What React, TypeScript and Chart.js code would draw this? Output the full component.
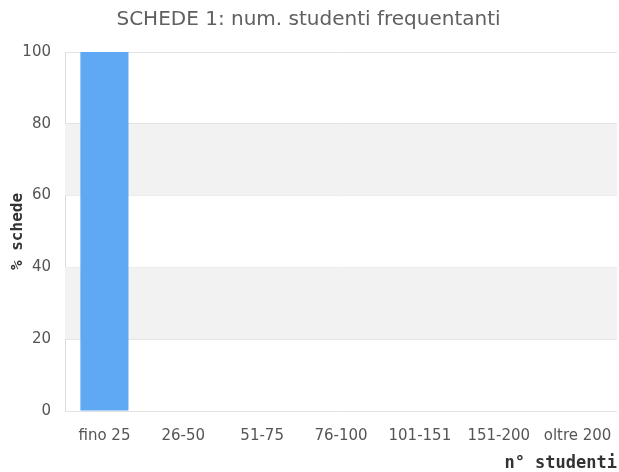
import React, { useEffect, useRef } from "react";
import { Chart, registerables } from "chart.js";

Chart.register(...registerables);

const categories = ["fino 25", "26-50", "51-75", "76-100", "101-151", "151-200", "oltre 200"];
const values = [100, 0, 0, 0, 0, 0, 0];
const titleText = "SCHEDE 1: num. studenti frequentanti";
const xTitle = "n° studenti";
const yTitle = "% schede";

const bandPlugin = {
  id: "bands",
  beforeDatasetsDraw(chart: any) {
    const { ctx, chartArea, scales } = chart;
    const y = scales.y;
    const ticks = y.ticks.map((t: any) => t.value);
    ctx.save();
    ctx.fillStyle = "#f2f2f2";
    for (let i = 0; i < ticks.length - 1; i++) {
      if (i % 2 === 1) {
        const y1 = y.getPixelForValue(ticks[i]);
        const y2 = y.getPixelForValue(ticks[i + 1]);
        ctx.fillRect(chartArea.left, Math.min(y1, y2), chartArea.right - chartArea.left, Math.abs(y2 - y1));
      }
    }
    ctx.restore();
  },
};

export default function App() {
  const ref = useRef<HTMLCanvasElement>(null);
  useEffect(() => {
    if (!ref.current) return;
    const chart = new Chart(ref.current, {
      type: "bar",
      data: {
        labels: categories,
        datasets: [
          {
            data: values,
            backgroundColor: "#5fa8f3",
            borderWidth: 0,
            barPercentage: 0.61,
            categoryPercentage: 1,
          },
        ],
      },
      plugins: [bandPlugin],
      options: {
        animation: false,
        responsive: false,
        maintainAspectRatio: false,
        layout: { padding: { left: 0, right: 2, top: 0, bottom: 0 } },
        plugins: {
          legend: { display: false },
          tooltip: { enabled: false },
          title: {
            display: true,
            text: titleText,
            color: "#606060",
            font: { family: "DejaVu Sans", size: 20, weight: "normal", lineHeight: 1.2 },
            padding: { top: 8, bottom: 20 },
          },
        },
        scales: {
          x: {
            grid: { display: false, drawTicks: false },
            border: { display: false },
            ticks: { color: "#555", font: { family: "DejaVu Sans", size: 15 }, padding: 16, maxRotation: 0, autoSkip: false },
            title: {
              display: true,
              text: xTitle,
              align: "end",
              color: "#333",
              font: { family: "DejaVu Sans Mono", size: 17, weight: "bold", lineHeight: 1 },
              padding: { top: -1, bottom: 0 },
            },
            afterFit: (scale: any) => {
              scale.height = 61;
              scale.paddingRight = 0;
              scale.paddingLeft = 0;
            },
          },
          y: {
            min: 0,
            max: 100,
            ticks: { stepSize: 20, color: "#555", font: { family: "DejaVu Sans", size: 15 }, padding: 14 },
            grid: { color: "#e2e2e2", drawTicks: false },
            border: { display: true, color: "#dcdcdc" },
            title: {
              display: true,
              text: yTitle,
              color: "#333",
              font: { family: "DejaVu Sans Mono", size: 16, weight: "bold", lineHeight: 1.2 },
              padding: { top: 8, bottom: 0 },
            },
            afterFit: (scale: any) => {
              scale.width = 65;
            },
          },
        },
      },
    });
    return () => chart.destroy();
  }, []);
  return (
    <div style={{ position: "fixed", left: 0, top: 0, width: 619, height: 472 }}>
      <canvas ref={ref} width={619} height={472} style={{ width: 619, height: 472 }} />
    </div>
  );
}
